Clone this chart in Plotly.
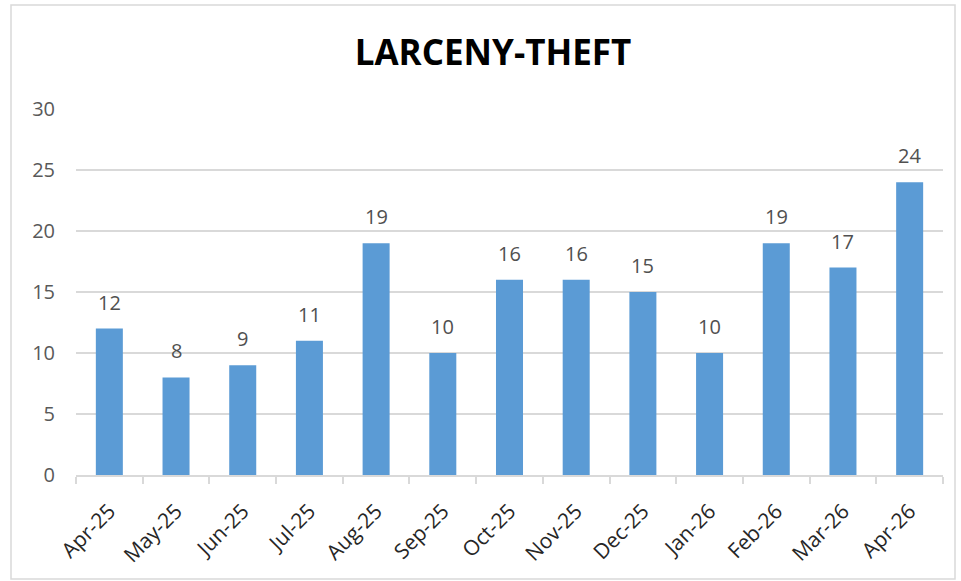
import plotly.graph_objects as go

months = ["Apr-25", "May-25", "Jun-25", "Jul-25", "Aug-25", "Sep-25", "Oct-25",
          "Nov-25", "Dec-25", "Jan-26", "Feb-26", "Mar-26", "Apr-26"]
counts = [12, 8, 9, 11, 19, 10, 16, 16, 15, 10, 19, 17, 24]
y_ticks = [0, 5, 10, 15, 20, 25, 30]
title_text = "LARCENY-THEFT"

W, H = 961, 581
L, R, T, B = 76, 18, 109, 106
pw, ph = W - L - R, H - T - B
FONT = "Open Sans, Liberation Sans, sans-serif"

fig = go.Figure(go.Bar(
    x=months, y=counts,
    marker=dict(color="#5B9BD5", line=dict(width=0)),
    hoverinfo="x+y",
))

for m, v in zip(months, counts):
    fig.add_annotation(x=m, y=v, text=str(v), showarrow=False, yanchor="bottom",
                       yshift=11, font=dict(family=FONT, size=20, color="#505050"))

fig.update_layout(
    width=W, height=H,
    margin=dict(l=L, r=R, t=T, b=B),
    paper_bgcolor="white", plot_bgcolor="white",
    bargap=0.595,
    showlegend=False,
    title=dict(text="<b>" + title_text + "</b>", x=493 / W, xref="container",
               xanchor="center", y=1 - 53 / H, yanchor="middle",
               font=dict(family=FONT, size=35, color="#000000")),
    font=dict(family=FONT, color="#595959"),
)
fig.update_yaxes(range=[0, 30], tickvals=y_ticks, showgrid=True, gridcolor="#D9D9D9", gridwidth=1.5,
                 zeroline=False, showline=False, ticks="", tickfont=dict(size=20, color="#595959"),
                 ticklabelstandoff=20)
fig.update_xaxes(tickangle=-45, showline=True, linecolor="#D9D9D9", linewidth=1.5,
                 ticks="outside", tickson="boundaries", ticklen=7, tickcolor="#D9D9D9", tickwidth=1.5,
                 tickfont=dict(size=21, color="#262626"), showgrid=False, ticklabelstandoff=14)

# chart border
fig.add_shape(type="rect", xref="paper", yref="paper",
              x0=(11 - L) / pw, x1=(955 - L) / pw,
              y0=-(579 - (H - B)) / ph, y1=1 + (T - 5) / ph,
              line=dict(color="#D9D9D9", width=1.5), fillcolor="rgba(0,0,0,0)", layer="below")

fig.write_html("out.html", config={"displayModeBar": False},
               post_script="document.body.style.margin='0px';")
